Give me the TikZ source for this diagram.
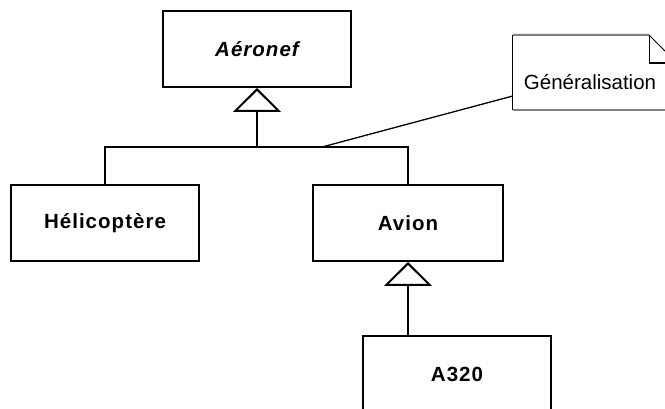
\documentclass[tikz,border=0pt]{standalone}
\usepackage{fontspec}
\setmainfont{Liberation Sans}
\newfontfamily\classfont{Liberation Sans}[LetterSpace=5]
\usetikzlibrary{arrows.meta}
\definecolor{notegray}{RGB}{128,128,128}
\begin{document}
\begin{tikzpicture}[x=1pt,y=-1pt,
  every node/.style={font=\fontsize{20.5}{24}\selectfont},
  classbox/.style={draw=black,line width=2pt,minimum width=188pt,minimum height=76pt,
    inner sep=0pt,font=\classfont\bfseries\fontsize{20.5}{24}\selectfont},
  wire/.style={line width=2pt,line cap=rect},
  gen/.style={wire,-{Triangle[open,length=24pt,width=48pt,line width=2pt]}},
  thinwire/.style={line width=1.3pt}]
  \useasboundingbox (0,0) rectangle (665,409);

  % classes
  \node[classbox] (aeronef) at (257,49) {\itshape Aéronef};
  \node[classbox] (heli)    at (105,223) {Hélicoptère};
  \node[classbox,minimum width=190pt] (avion) at (408,223) {Avion};
  \node[classbox] (a320)    at (457,374) {A320};

  % generalisation tree
  \coordinate (bus) at (257,147);
  \coordinate (tap) at (322,147);
  \draw[wire] (heli.north) |- (bus) -| (avion.north);
  \draw[gen] (bus) -- (aeronef.south);
  \draw[gen] (avion.south |- a320.north) -- (avion.south);

  % comment note with a folded corner
  \node[minimum width=164pt,minimum height=75pt,inner sep=0pt] (note) at (595,72.5) {};
  \node[anchor=base] (ntext) at (590,90) {Généralisation};
  \coordinate (fold) at (649,35);
  \coordinate (foldin) at (649,63);
  \draw[notegray,line width=2pt] (note.north west) -- (fold);
  \draw[notegray,line width=2pt] (note.south west) -- (note.south east);
  \draw[black,line width=1pt] (note.north west) -- (note.south west);
  \draw[black,line width=1pt] (fold) -- ++(28,28);
  \draw[black,line width=1pt] (fold) -- (foldin);
  \draw[black,line width=2pt] (foldin) -- ++(30,0);

  % link from the tree to the note
  \draw[thinwire] (tap) -- (note.west |- 0,96);
\end{tikzpicture}
\end{document}
